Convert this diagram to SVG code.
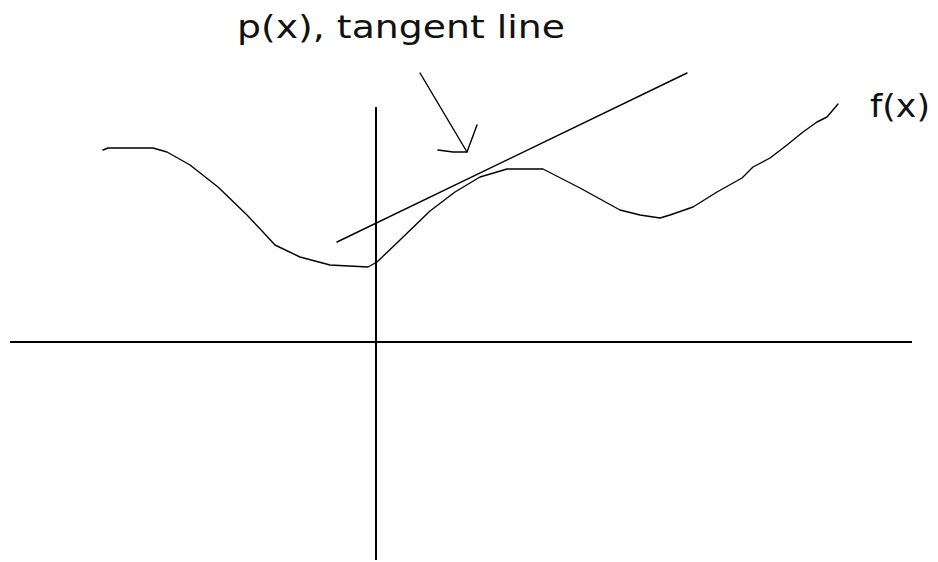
<svg xmlns="http://www.w3.org/2000/svg" width="938" height="562" viewBox="0 0 938 562">
<style>
.ln{fill:none;stroke:#000;stroke-width:1.4;stroke-linejoin:round;stroke-linecap:round}
.ax{fill:none;stroke:#000;stroke-width:2}
.lbl{font-family:"DejaVu Sans",sans-serif;font-size:32px;fill:#111}
</style>
<rect width="938" height="562" fill="#fff"/>
<g id="axes">
<line class="ax" x1="10" y1="342" x2="912" y2="342"/>
<line class="ax" x1="376" y1="107" x2="376" y2="560"/>
</g>
<g id="fx">
<polyline class="ln" points="103,150 108,148 153,148 167,152 190,165 218,187 247,215 263,232 275,245 300,257 330,265 368,267 377,262 400,240 430,211 455,192 480,177 497,172 507,169 543,169 580,188 620,210 640,215 660,218 670,215 693,207 717,192 742,178 753,167 770,158 787,145 803,132 817,122 827,117 838,104"/>
<text class="lbl" x="870" y="117" textLength="60" lengthAdjust="spacingAndGlyphs">f(x)</text>
</g>
<g id="px">
<line class="ln" x1="337" y1="242" x2="687" y2="73"/>
<text class="lbl" x="237" y="38" textLength="328" lengthAdjust="spacingAndGlyphs">p(x), tangent line</text>
</g>
<g id="connectors">
<polyline class="ln" points="420,73 467,152"/>
<polyline class="ln" points="477,125 467,152 453,152 438,150"/>
</g>
</svg>
